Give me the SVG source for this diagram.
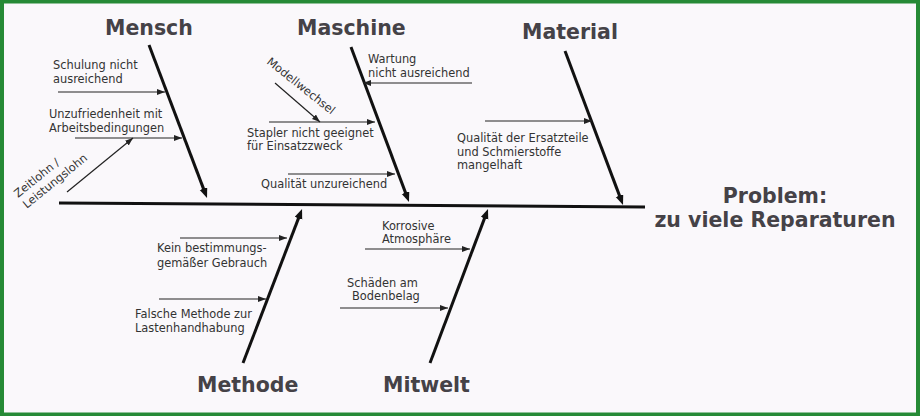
<svg xmlns="http://www.w3.org/2000/svg" width="920" height="416" viewBox="0 0 920 416">
<defs>
<style>
.title{font-family:"DejaVu Sans","Liberation Sans",sans-serif;font-weight:bold;font-size:20.5px;fill:#454247}
.lbl{font-family:"DejaVu Sans","Liberation Sans",sans-serif;font-size:11.4px;fill:#333}
.bone{stroke:#111;stroke-width:3;fill:none}
.thin{stroke:#222;stroke-width:1.2;fill:none}
</style>
<marker id="ah" markerUnits="userSpaceOnUse" markerWidth="11" markerHeight="9" refX="4" refY="4" orient="auto">
<path d="M0,0 L10,4 L0,8 z" fill="#111"/>
</marker>
<marker id="at" markerUnits="userSpaceOnUse" markerWidth="9" markerHeight="7" refX="8" refY="3" orient="auto">
<path d="M0,0 L8,3 L0,6 z" fill="#222"/>
</marker>
</defs>
<rect x="0" y="0" width="920" height="416" fill="#faf8fb"/>
<rect x="2" y="1.5" width="916" height="413" fill="none" stroke="#268a36" stroke-width="4"/>

<g id="connectors">
<line class="bone" x1="59" y1="203" x2="645" y2="207"/>
<line class="bone" x1="149" y1="45" x2="204.9" y2="192.4" marker-end="url(#ah)"/>
<line class="bone" x1="351" y1="47" x2="406.9" y2="196.4" marker-end="url(#ah)"/>
<line class="bone" x1="565" y1="51" x2="620.9" y2="199.4" marker-end="url(#ah)"/>
<line class="bone" x1="243" y1="363" x2="299.9" y2="214.6" marker-end="url(#ah)"/>
<line class="bone" x1="430" y1="363" x2="485.9" y2="214.6" marker-end="url(#ah)"/>
<line class="thin" x1="58" y1="92" x2="165" y2="92" marker-end="url(#at)"/>
<line class="thin" x1="75" y1="138" x2="182" y2="138" marker-end="url(#at)"/>
<line class="thin" x1="67" y1="192" x2="133" y2="138" marker-end="url(#at)"/>
<line class="thin" x1="275" y1="83" x2="320" y2="122" marker-end="url(#at)"/>
<line class="thin" x1="269" y1="122" x2="375" y2="122" marker-end="url(#at)"/>
<line class="thin" x1="288" y1="174" x2="395" y2="174" marker-end="url(#at)"/>
<line class="thin" x1="472" y1="83" x2="363" y2="83" marker-end="url(#at)"/>
<line class="thin" x1="485" y1="121" x2="592" y2="121" marker-end="url(#at)"/>
<line class="thin" x1="180" y1="238" x2="287" y2="238" marker-end="url(#at)"/>
<line class="thin" x1="159" y1="299" x2="266" y2="299" marker-end="url(#at)"/>
<line class="thin" x1="365" y1="249" x2="470" y2="249" marker-end="url(#at)"/>
<line class="thin" x1="340" y1="308" x2="448" y2="308" marker-end="url(#at)"/>
</g>

<g id="mensch"><text class="title" x="105" y="35">Mensch</text></g>
<g id="maschine"><text class="title" x="297" y="35">Maschine</text></g>
<g id="material"><text class="title" x="522" y="39">Material</text></g>
<g id="methode"><text class="title" x="197" y="392">Methode</text></g>
<g id="mitwelt"><text class="title" x="383" y="392">Mitwelt</text></g>
<g id="problem"><text class="title" x="775" y="203" text-anchor="middle">Problem:</text><text class="title" x="775" y="227" text-anchor="middle">zu viele Reparaturen</text></g>

<g id="schulung"><text class="lbl" x="53" y="69">Schulung nicht</text><text class="lbl" x="53" y="83">ausreichend</text></g>
<g id="unzufriedenheit"><text class="lbl" x="49" y="118">Unzufriedenheit mit</text><text class="lbl" x="49" y="132">Arbeitsbedingungen</text></g>
<g id="zeitlohn" transform="translate(18,198) rotate(-39)"><text class="lbl" x="0" y="0">Zeitlohn /</text><text class="lbl" x="0" y="14">Leistungslohn</text></g>
<g id="modellwechsel" transform="translate(266,63) rotate(38.5)"><text class="lbl" x="0" y="0">Modellwechsel</text></g>
<g id="stapler"><text class="lbl" x="247" y="137">Stapler nicht geeignet</text><text class="lbl" x="247" y="150">für Einsatzzweck</text></g>
<g id="qualitaet"><text class="lbl" x="261" y="188">Qualität unzureichend</text></g>
<g id="wartung"><text class="lbl" x="368" y="63">Wartung</text><text class="lbl" x="368" y="77">nicht ausreichend</text></g>
<g id="ersatzteile"><text class="lbl" x="457" y="142">Qualität der Ersatzteile</text><text class="lbl" x="457" y="156">und Schmierstoffe</text><text class="lbl" x="457" y="169">mangelhaft</text></g>
<g id="gebrauch"><text class="lbl" x="157" y="252">Kein bestimmungs-</text><text class="lbl" x="157" y="267">gemäßer Gebrauch</text></g>
<g id="lastenhandhabung"><text class="lbl" x="135" y="318">Falsche Methode zur</text><text class="lbl" x="135" y="332">Lastenhandhabung</text></g>
<g id="korrosive"><text class="lbl" x="382" y="230">Korrosive</text><text class="lbl" x="382" y="243">Atmosphäre</text></g>
<g id="bodenbelag"><text class="lbl" x="347" y="287">Schäden am</text><text class="lbl" x="352" y="300">Bodenbelag</text></g>
</svg>
